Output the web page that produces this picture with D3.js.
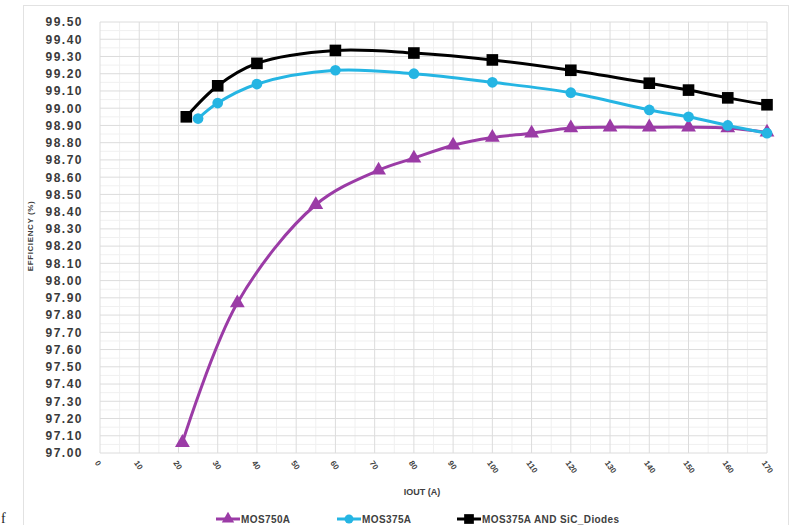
<!DOCTYPE html>
<html>
<head>
<meta charset="utf-8">
<script src="https://cdn.jsdelivr.net/npm/d3@7"></script>
<style>
  html, body { margin: 0; padding: 0; background: #fff; }
  svg { display: block; }
</style>
</head>
<body>
<svg id="chart" width="800" height="525"></svg>
<script>
// ---- data ----
const xTickLabels = [0, 10, 20, 30, 40, 50, 60, 70, 80, 90, 100, 110, 120, 130, 140, 150, 160, 170];
const yTickLabels = [97.0, 97.1, 97.2, 97.3, 97.4, 97.5, 97.6, 97.7, 97.8, 97.9, 98.0, 98.1, 98.2, 98.3, 98.4, 98.5, 98.6, 98.7, 98.8, 98.9, 99.0, 99.1, 99.2, 99.3, 99.4, 99.5];

const mos750X = [21, 35, 55, 71, 80, 90, 100, 110, 120, 130, 140, 150, 160, 170];
const mos750Y = [97.06, 97.87, 98.44, 98.64, 98.71, 98.785, 98.83, 98.855, 98.885, 98.89, 98.89, 98.89, 98.885, 98.86];

const mos375X = [25, 30, 40, 60, 80, 100, 120, 140, 150, 160, 170];
const mos375Y = [98.94, 99.03, 99.14, 99.22, 99.20, 99.15, 99.09, 98.99, 98.95, 98.90, 98.855];

const sicX = [22, 30, 40, 60, 80, 100, 120, 140, 150, 160, 170];
const sicY = [98.95, 99.13, 99.26, 99.335, 99.32, 99.28, 99.22, 99.145, 99.105, 99.06, 99.02];

const seriesNames = ["MOS750A", "MOS375A", "MOS375A AND SiC_Diodes"];

// ---- layout ----
const svg = d3.select("#chart");
const pLeft = 100, pRight = 767, pTop = 22, pBottom = 453;
const font = "Liberation Sans, Arial, sans-serif";

const x = d3.scaleLinear().domain([0, 170]).range([pLeft, pRight]);
const y = d3.scaleLinear().domain([97.0, 99.5]).range([pBottom, pTop]);

// chart area border
svg.append("rect").attr("x", 23.5).attr("y", 5.5).attr("width", 765).attr("height", 530)
  .attr("fill", "none").attr("stroke", "#e2e2e2").attr("stroke-width", 1);

// minor grid
const g = svg.append("g");
const minorX = d3.range(5, 170, 10);
const minorY = d3.range(97.05, 99.5, 0.1);
g.selectAll(".mx").data(minorX).join("line")
  .attr("x1", d => x(d)).attr("x2", d => x(d)).attr("y1", pTop).attr("y2", pBottom)
  .attr("stroke", "#f0f0f0").attr("stroke-width", 1);
g.selectAll(".my").data(minorY).join("line")
  .attr("x1", pLeft).attr("x2", pRight).attr("y1", d => y(d)).attr("y2", d => y(d))
  .attr("stroke", "#f0f0f0").attr("stroke-width", 1);

// major grid
const g2 = svg.append("g");
g2.selectAll(".gx").data(xTickLabels).join("line")
  .attr("x1", d => x(d)).attr("x2", d => x(d)).attr("y1", pTop).attr("y2", pBottom)
  .attr("stroke", "#dcdcdc").attr("stroke-width", 1);
const g3 = svg.append("g");
g3.selectAll(".gy").data(yTickLabels).join("line")
  .attr("x1", pLeft).attr("x2", pRight).attr("y1", d => y(d)).attr("y2", d => y(d))
  .attr("stroke", "#dcdcdc").attr("stroke-width", 1);

// y axis labels
const yAxis = d3.axisLeft(y).tickValues(yTickLabels).tickFormat(d3.format(".2f")).tickSize(0).tickPadding(17);
const ya = svg.append("g").attr("transform", `translate(${pLeft},0)`).call(yAxis);
ya.select(".domain").remove();
ya.selectAll("text").attr("font-family", font)
  .attr("font-size", 12).attr("font-weight", "bold").attr("fill", "#3a3a3a").attr("letter-spacing", 1.5);

// x axis labels
const xAxis = d3.axisBottom(x).tickValues(xTickLabels).tickFormat(d => d).tickSize(0);
const xa = svg.append("g").attr("transform", `translate(0,${pBottom})`).call(xAxis);
xa.select(".domain").remove();
xa.selectAll("text")
  .attr("font-family", font)
  .attr("font-size", 8).attr("font-weight", "bold").attr("fill", "#404040")
  .attr("text-anchor", "start").attr("dy", 0).attr("y", 0)
  .attr("transform", "translate(-6,10) rotate(55)");

// axis titles
svg.append("text").attr("x", 422).attr("y", 495).attr("text-anchor", "middle")
  .attr("font-family", font).attr("font-size", 9).attr("font-weight", "bold")
  .attr("fill", "#404040").text("IOUT (A)");
svg.append("text").attr("transform", "translate(33,236) rotate(-90)").attr("text-anchor", "middle")
  .attr("font-family", font).attr("font-size", 8).attr("font-weight", "bold").attr("letter-spacing", 0.6)
  .attr("fill", "#404040").text("EFFICIENCY (%)");

// series
const series = [
  { name: seriesNames[0], xs: mos750X, ys: mos750Y, color: "#9B3BA6", sym: d3.symbolTriangle, size: 95 },
  { name: seriesNames[1], xs: mos375X, ys: mos375Y, color: "#25B5E3", sym: d3.symbolCircle, size: 90 },
  { name: seriesNames[2], xs: sicX, ys: sicY, color: "#000000", sym: d3.symbolSquare, size: 135 }
];

const line = d3.line().x(d => x(d[0])).y(d => y(d[1])).curve(d3.curveCatmullRom.alpha(0.5));

series.forEach(s => {
  const pts = s.xs.map((v, i) => [v, s.ys[i]]);
  svg.append("path").datum(pts).attr("d", line).attr("fill", "none")
    .attr("stroke", s.color).attr("stroke-width", 3);
  svg.append("g").selectAll("path").data(pts).join("path")
    .attr("transform", d => `translate(${x(d[0])},${y(d[1])})`)
    .attr("d", d3.symbol().type(s.sym).size(s.size)).attr("fill", s.color);
});

// legend
const legendX = [216, 337, 457];
series.forEach((s, i) => {
  const lg = svg.append("g").attr("transform", `translate(${legendX[i]},519)`);
  lg.append("line").attr("x1", 0).attr("x2", 24).attr("stroke", s.color).attr("stroke-width", 3);
  lg.append("path").attr("transform", "translate(12,0)").attr("d", d3.symbol().type(s.sym).size(s.size * 0.7)).attr("fill", s.color);
  lg.append("text").attr("x", 25).attr("y", 3.5).attr("font-family", font)
    .attr("font-size", 10).attr("font-weight", "bold").attr("letter-spacing", 0.4)
    .attr("fill", "#404040").text(s.name);
});

// stray glyph at bottom-left of the crop
svg.append("text").attr("x", 1).attr("y", 523).attr("font-family", "Liberation Serif, serif")
  .attr("font-size", 14).attr("fill", "#222").text("f");
</script>
</body>
</html>
